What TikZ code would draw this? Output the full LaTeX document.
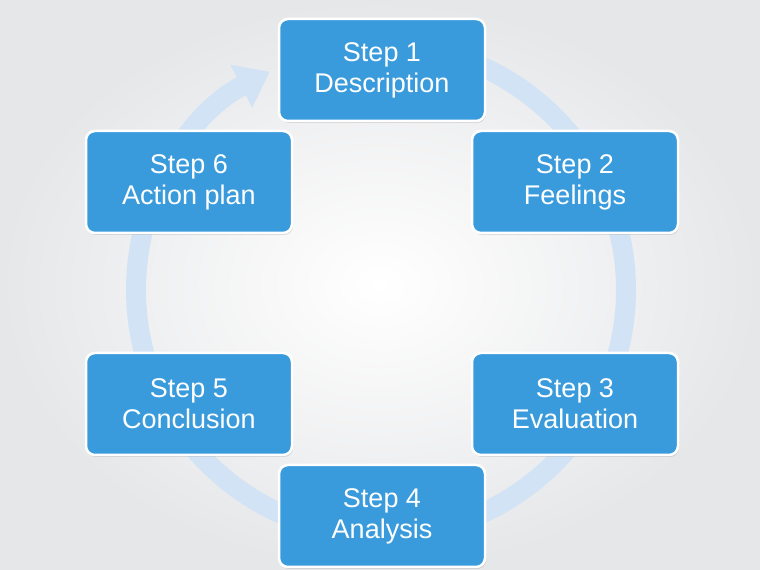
\documentclass[tikz,border=0pt]{standalone}
\usepackage{fontspec}
\setmainfont{Liberation Sans}
\usetikzlibrary{arrows.meta,shadows}
\definecolor{boxblue}{HTML}{3A9BDC}
\definecolor{ringblue}{HTML}{D2E3F5}
\definecolor{bgedge}{HTML}{E6E7E9}
\tikzset{stepbox/.style={draw=white,line width=2.5pt,fill=boxblue,rounded corners=9pt,minimum width=206pt,minimum height=102pt,text=white,align=center,font=\fontsize{27}{31}\selectfont,drop shadow={shadow xshift=1pt,shadow yshift=-2pt,opacity=0.25}}}
\begin{document}
\begin{tikzpicture}[x=1pt,y=1pt]
\useasboundingbox (0,0) rectangle (760,570);
\shade[inner color=white,outer color=bgedge] (0,0) rectangle (760,570);
\coordinate (c) at (381,280);
\draw[ringblue,line width=20pt,-{Triangle[width=46pt,length=32pt]}] ([shift={(90:245)}]c) arc[start angle=90,end angle=-243,radius=245];
\node[stepbox] (s1) at (382,500) {Step 1\\Description};
\node[stepbox] (s2) at (575,388) {Step 2\\Feelings};
\node[stepbox] (s3) at (575,166) {Step 3\\Evaluation};
\node[stepbox] (s4) at (382,54) {Step 4\\Analysis};
\node[stepbox] (s5) at (189,166) {Step 5\\Conclusion};
\node[stepbox] (s6) at (189,388) {Step 6\\Action plan};
\end{tikzpicture}
\end{document}
